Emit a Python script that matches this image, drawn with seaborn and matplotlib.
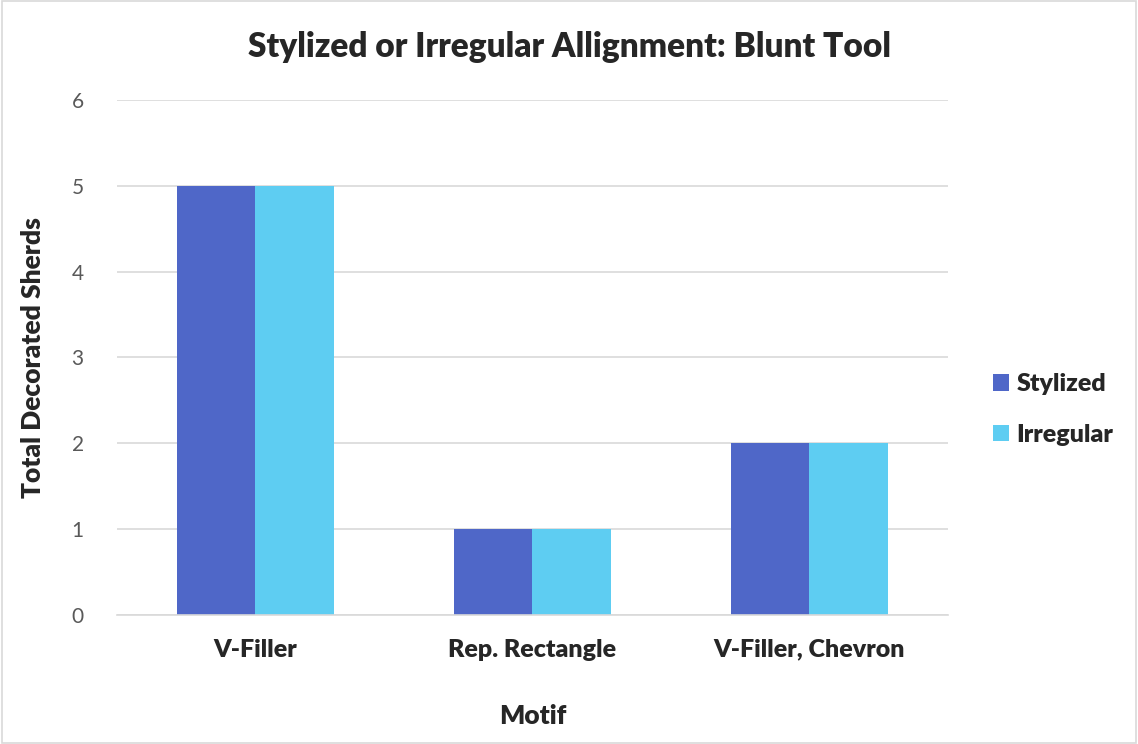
import pandas as pd
import matplotlib.pyplot as plt
import seaborn as sns
from matplotlib.patches import Rectangle

# Datos del gráfico
motivos = ['V-Filler', 'Rep. Rectangle', 'V-Filler, Chevron']
stylized = [5, 1, 2]
irregular = [5, 1, 2]
series = ['Stylized', 'Irregular']
colores = ['#4F67C8', '#5ECDF2']

df = pd.DataFrame({
    'Motif': motivos * 2,
    'valor': stylized + irregular,
    'serie': [series[0]] * 3 + [series[1]] * 3,
})

sns.set_style('white')
plt.rcParams['font.family'] = ['Lato', 'DejaVu Sans']

fig = plt.figure(figsize=(11.38, 7.44), dpi=100)
ax = fig.add_axes([0.1028, 0.1734, 0.7302, 0.6922])

sns.barplot(data=df, x='Motif', y='valor', hue='serie', palette=colores,
            width=0.57, saturation=1, ax=ax, edgecolor='none')

ax.set_ylim(0, 6)
ax.set_xlim(-0.5, 2.5)
ax.set_yticks(range(0, 7))
ax.yaxis.grid(True, color='#D9D9D9', linewidth=1.2)
ax.set_axisbelow(True)
for s in ['top', 'right', 'left']:
    ax.spines[s].set_visible(False)
ax.spines['bottom'].set_color('#D9D9D9')
ax.spines['bottom'].set_linewidth(1.2)
ax.tick_params(axis='y', length=0, labelsize=15, labelcolor='#595959', pad=24)
ax.tick_params(axis='x', length=0, labelsize=18, pad=17)
for t in ax.get_xticklabels():
    t.set_fontweight('heavy')

ax.set_xlabel('Motif', fontsize=19, fontweight='heavy', labelpad=31)
ax.set_ylabel('Total Decorated Sherds', fontsize=19, fontweight='heavy', labelpad=19)
fig.suptitle('Stylized or Irregular Allignment: Blunt Tool', x=0.5, y=0.958,
             fontsize=24, fontweight='heavy')

leg = ax.legend(loc='center left', bbox_to_anchor=(1.027, 0.399), frameon=False,
                prop={'size': 18, 'weight': 'heavy'}, handlelength=0.65,
                handleheight=0.65, labelspacing=1.15, handletextpad=0.3)

fig.patches.append(Rectangle((0.002, 0.002), 0.996, 0.996, transform=fig.transFigure,
                             fill=False, edgecolor='#D9D9D9', linewidth=1.2))

fig.savefig('out.png', dpi=100)
